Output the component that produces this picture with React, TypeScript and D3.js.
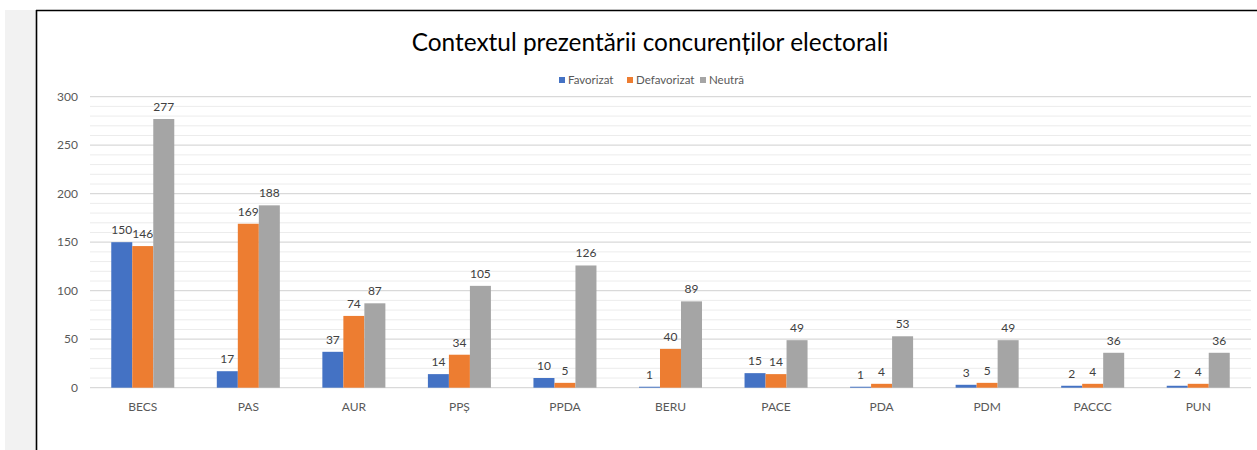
import React from "react";
import * as d3 from "d3";

const categories = ["BECS", "PAS", "AUR", "PPȘ", "PPDA", "BERU", "PACE", "PDA", "PDM", "PACCC", "PUN"];
const seriesNames = ["Favorizat", "Defavorizat", "Neutră"];
const favorizat = [150, 17, 37, 14, 10, 1, 15, 1, 3, 2, 2];
const defavorizat = [146, 169, 74, 34, 5, 40, 14, 4, 5, 4, 4];
const neutra = [277, 188, 87, 105, 126, 89, 49, 53, 49, 36, 36];
const yTicks = [0, 50, 100, 150, 200, 250, 300];
const colors = ["#4472C4", "#ED7D31", "#A5A5A5"];

const W = 1257;
const H = 450;
const FONT = "Lato, 'Open Sans', sans-serif";

export default function App() {
  const series = [favorizat, defavorizat, neutra];
  const x = d3.scaleBand<string>().domain(categories).range([90, 1251]).paddingInner(0).paddingOuter(0);
  const y = d3.scaleLinear().domain([0, 300]).range([387.7, 96.7]);
  const groupW = x.bandwidth() / 1.675;
  const x1 = d3.scaleBand<number>().domain([0, 1, 2]).range([0, groupW]);
  const minor = d3.range(0, 301, 10).filter((v) => v % 50 !== 0);
  const legendX = [559, 627, 700];

  return (
    <svg width={W} height={H} style={{ position: "absolute", left: 0, top: 0, background: "#fff" }}>
      <rect x={5} y={10} width={31} height={H - 10} fill="#f2f2f2" />
      <line x1={36.5} y1={10} x2={36.5} y2={H} stroke="#000" strokeWidth={1.6} />
      <line x1={36} y1={10.5} x2={W} y2={10.5} stroke="#000" strokeWidth={1.6} />
      <text x={650} y={51} textAnchor="middle" fontFamily={FONT} fontSize={24.4} fill="#000">
        Contextul prezentării concurenților electorali
      </text>
      {seriesNames.map((n, i) => (
        <g key={n}>
          <rect x={legendX[i]} y={77} width={6} height={6} fill={colors[i]} />
          <text x={legendX[i] + 9} y={84} fontFamily={FONT} fontSize={11.5} fill="#595959">
            {n}
          </text>
        </g>
      ))}
      {minor.map((v) => (
        <line key={"m" + v} x1={90} x2={1251} y1={y(v)} y2={y(v)} stroke="#ececec" strokeWidth={1} />
      ))}
      {yTicks.map((v) => (
        <g key={"t" + v}>
          <line x1={90} x2={1251} y1={y(v)} y2={y(v)} stroke="#d9d9d9" strokeWidth={1.3} />
          <text x={78} y={y(v) + 4} textAnchor="end" fontFamily={FONT} fontSize={12} fill="#595959">
            {v}
          </text>
        </g>
      ))}
      {categories.map((c, ci) => {
        const gx = (x(c) as number) + (x.bandwidth() - groupW) / 2;
        return (
          <g key={c}>
            {series.map((s, si) => {
              const bx = gx + (x1(si) as number);
              const bw = x1.bandwidth();
              const v = s[ci];
              return (
                <g key={si}>
                  <rect x={bx} y={y(v)} width={bw} height={y(0) - y(v)} fill={colors[si]} />
                  <text
                    x={bx + bw / 2}
                    y={y(v) - 8}
                    textAnchor="middle"
                    fontFamily={FONT}
                    fontSize={12}
                    fill="#404040"
                  >
                    {v}
                  </text>
                </g>
              );
            })}
            <text
              x={(x(c) as number) + x.bandwidth() / 2}
              y={411}
              textAnchor="middle"
              fontFamily={FONT}
              fontSize={12}
              fill="#595959"
            >
              {c}
            </text>
          </g>
        );
      })}
    </svg>
  );
}
